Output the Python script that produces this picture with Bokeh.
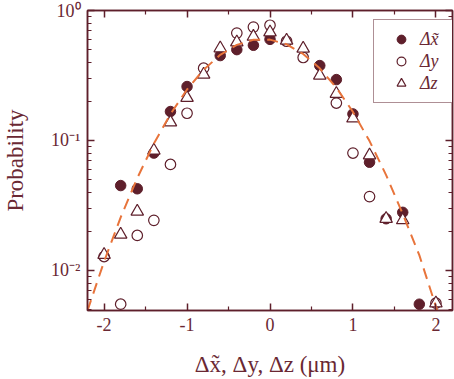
from bokeh.plotting import figure
from bokeh.models import (LogAxis, LinearAxis, FixedTicker, Legend, LegendItem,
                          Range1d, ColumnDataSource)
from bokeh.embed import file_html
from bokeh.resources import INLINE

# ---- data ----
dx_x = [-1.8, -1.6, -1.4, -1.2, -1.0, -0.6, -0.4, -0.2, 0.0, 0.6, 0.8, 1.0, 1.2, 1.4, 1.6, 1.8]
dx_p = [0.045, 0.0425, 0.080, 0.167, 0.26, 0.45, 0.50, 0.54, 0.60, 0.377, 0.294, 0.160, 0.068, 0.025, 0.028, 0.0055]

dy_x = [-2.0, -1.8, -1.6, -1.4, -1.2, -1.0, -0.8, -0.4, -0.2, 0.0, 0.2, 0.4, 0.8, 1.0, 1.2, 2.0]
dy_p = [0.0128, 0.0055, 0.0186, 0.0243, 0.0654, 0.162, 0.36, 0.67, 0.745, 0.77, 0.58, 0.435, 0.194, 0.080, 0.037, 0.0056]

dz_x = [-2.0, -1.8, -1.6, -1.4, -1.2, -1.0, -0.8, -0.6, -0.4, -0.2, 0.0, 0.2, 0.4, 0.6, 0.8, 1.0, 1.2, 1.4, 1.6, 2.0]
dz_p = [0.0132, 0.0189, 0.0284, 0.0838, 0.138, 0.213, 0.322, 0.513, 0.57, 0.63, 0.68, 0.588, 0.51, 0.316, 0.229, 0.148, 0.077, 0.025, 0.0244, 0.0056]

fit_x = [-2.2, -2.0, -1.8, -1.6, -1.4, -1.2, -1.0, -0.8, -0.6, -0.4, -0.2, 0.0,
         0.2, 0.4, 0.6, 0.8, 1.0, 1.2, 1.4, 1.6, 1.8, 2.0, 2.2]
fit_p = [0.00491, 0.01172, 0.02564, 0.05140, 0.09462, 0.1596, 0.2469, 0.3502, 0.4557, 0.5437, 0.5950, 0.5970,
         0.5494, 0.4636, 0.3588, 0.2547, 0.1658, 0.09895, 0.05418, 0.02720, 0.01311, 0.005284, 0.002046]

x_ticks = [-2, -1, 0, 1, 2]
x_tick_labels = ["-2", "-1", "0", "1", "2"]
x_minor = [-1.5, -0.5, 0.5, 1.5]
y_ticks = [0.01, 0.1, 1.0]
y_tick_labels = ["10\u207b\u00b2", "10\u207b\u00b9", "10\u2070"]
y_minor = [m * d for d in (0.001, 0.01, 0.1) for m in range(2, 10)]

series_labels = ["\u0394x\u0303", "\u0394y", "\u0394z"]
x_label = "\u0394x\u0303, \u0394y, \u0394z (\u03bcm)"
y_label = "Probability"

# ---- style ----
C = "#5e1f2b"
TXT = "#6a2833"
ORANGE = "#e8743b"
FONT = "Liberation Serif"

p = figure(width=454, height=379, y_axis_type="log",
           x_range=Range1d(-2.2, 2.2), y_range=Range1d(0.00492, 1.0),
           output_backend="svg", toolbar_location=None,
           min_border_left=85, min_border_right=2, min_border_top=10, min_border_bottom=69)
p.background_fill_color = "white"
p.border_fill_color = "white"
p.grid.visible = False
p.outline_line_color = C
p.outline_line_width = 1.5

bottom = p.below[0]
left = p.left[0]
top = LinearAxis()
right = LogAxis()
p.add_layout(top, "above")
p.add_layout(right, "right")

xt = FixedTicker(ticks=x_ticks, minor_ticks=x_minor)
yt = FixedTicker(ticks=y_ticks, minor_ticks=y_minor)
bottom.ticker = xt
top.ticker = xt
left.ticker = yt
right.ticker = yt

for ax in [bottom, left, top, right]:
    ax.axis_line_color = C
    ax.axis_line_width = 1.5
    ax.major_tick_line_color = C
    ax.minor_tick_line_color = C
    ax.major_tick_line_width = 1.5
    ax.minor_tick_line_width = 1.2
    ax.major_tick_in = 7
    ax.major_tick_out = 0
    ax.minor_tick_in = 4
    ax.minor_tick_out = 0
    ax.major_label_text_font = FONT
    ax.major_label_text_font_size = "18px"
    ax.major_label_text_color = TXT
    ax.axis_label_text_font = FONT
    ax.axis_label_text_font_size = "23px"
    ax.axis_label_text_font_style = "normal"
    ax.axis_label_text_color = TXT

top.major_label_overrides = {t: "" for t in x_ticks}
right.major_label_overrides = {t: "" for t in y_ticks}
top.major_label_standoff = 0
right.major_label_standoff = 0

bottom.major_label_overrides = dict(zip(x_ticks, x_tick_labels))
left.major_label_overrides = dict(zip(y_ticks, y_tick_labels))
bottom.major_label_standoff = 7
left.major_label_standoff = 7
bottom.axis_label = x_label
left.axis_label = y_label
bottom.axis_label_standoff = 18
left.axis_label_standoff = 20

s_dx = ColumnDataSource(dict(x=dx_x, y=dx_p))
s_dy = ColumnDataSource(dict(x=dy_x, y=dy_p))
s_dz = ColumnDataSource(dict(x=dz_x, y=dz_p))
s_fit = ColumnDataSource(dict(x=fit_x, y=fit_p))

r1 = p.scatter("x", "y", source=s_dx, marker="circle", size=10.5,
               fill_color=C, line_color=C, line_width=1)
r2 = p.scatter("x", "y", source=s_dy, marker="circle", size=10.5,
               fill_color="white", line_color=C, line_width=1.2)
r3 = p.scatter("x", "y", source=s_dz, marker="triangle", size=12.5,
               fill_color="white", line_color=C, line_width=1.2)
p.line("x", "y", source=s_fit, line_color=ORANGE, line_width=2, line_dash="11 7")

legend = Legend(items=[LegendItem(label=series_labels[0], renderers=[r1]),
                       LegendItem(label=series_labels[1], renderers=[r2]),
                       LegendItem(label=series_labels[2], renderers=[r3])],
                location=(286, 207))
legend.border_line_color = C
legend.border_line_width = 1.2
legend.background_fill_color = "white"
legend.background_fill_alpha = 1
legend.label_text_font = FONT
legend.label_text_font_size = "18px"
legend.label_text_font_style = "italic"
legend.label_text_color = TXT
legend.glyph_width = 38
legend.glyph_height = 22
legend.label_height = 22
legend.label_width = 25
legend.label_standoff = 0
legend.spacing = 0
legend.padding = 8
legend.margin = 0
p.add_layout(legend)

open("out.html", "w").write(file_html(p, INLINE))
